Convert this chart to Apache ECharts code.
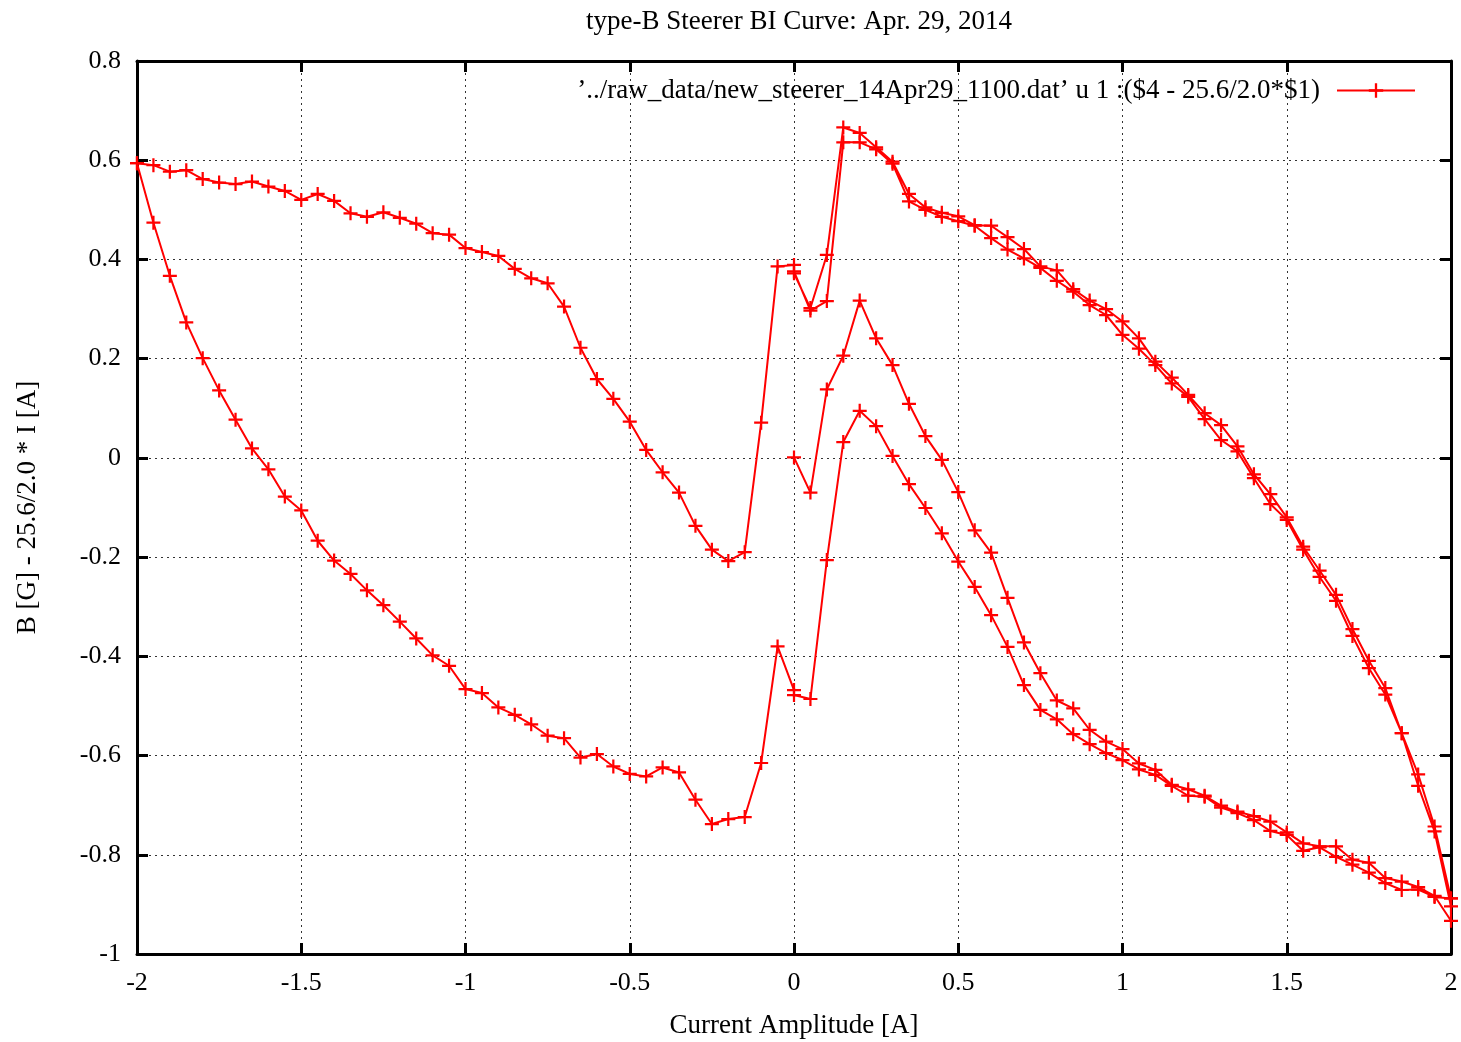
<!DOCTYPE html>
<html>
<head>
<meta charset="utf-8">
<title>type-B Steerer BI Curve</title>
<script src="https://cdn.jsdelivr.net/npm/echarts@6/dist/echarts.min.js"></script>
<style>
  html, body { margin: 0; padding: 0; background: #fff; }
  #chart { width: 1461px; height: 1042px; }
</style>
</head>
<body>
<div id="chart"></div>
<script>
// current steps, positive side (0 -> 2) and negative side (0 -> -2)
var currentPos = [0, 0.05, 0.1, 0.15, 0.2, 0.25, 0.3, 0.35, 0.4, 0.45, 0.5, 0.55, 0.6, 0.65, 0.7, 0.75, 0.8, 0.85, 0.9, 0.95,
    1, 1.05, 1.1, 1.15, 1.2, 1.25, 1.3, 1.35, 1.4, 1.45, 1.5, 1.55, 1.6, 1.65, 1.7, 1.75, 1.8, 1.85, 1.9, 1.95, 2];
var currentNeg = [0, -0.05, -0.1, -0.15, -0.2, -0.25, -0.3, -0.35, -0.4, -0.45, -0.5, -0.55, -0.6, -0.65, -0.7, -0.75, -0.8, -0.85, -0.9, -0.95,
    -1, -1.05, -1.1, -1.15, -1.2, -1.25, -1.3, -1.35, -1.4, -1.45, -1.5, -1.55, -1.6, -1.65, -1.7, -1.75, -1.8, -1.85, -1.9, -1.95, -2];

// 1st ramp 0 -> 2 (listed along currentPos)
var rampUp1 = [0.001, -0.07, 0.138, 0.206, 0.317, 0.241, 0.187, 0.109, 0.044, -0.004, -0.069, -0.146, -0.191, -0.282, -0.372, -0.434,
    -0.489, -0.505, -0.548, -0.572, -0.587, -0.616, -0.629, -0.659, -0.668, -0.681, -0.701, -0.713, -0.722, -0.733, -0.755, -0.777,
    -0.783, -0.783, -0.81, -0.816, -0.847, -0.854, -0.865, -0.883, -0.933];
// ramp 2 -> 0 (listed along currentPos, run backwards)
var rampDown1 = [0.376, 0.297, 0.316, 0.636, 0.636, 0.622, 0.593, 0.517, 0.5, 0.486, 0.477, 0.468, 0.443, 0.42, 0.402, 0.383, 0.357,
    0.335, 0.308, 0.288, 0.248, 0.22, 0.187, 0.15, 0.123, 0.078, 0.036, 0.013, -0.041, -0.093, -0.125, -0.185, -0.24, -0.288, -0.359,
    -0.424, -0.477, -0.555, -0.661, -0.753, -0.904];
// ramp 0 -> -2 (listed along currentNeg)
var rampNegDown = [0.389, 0.386, 0.071, -0.19, -0.208, -0.185, -0.137, -0.07, -0.029, 0.016, 0.073, 0.119, 0.159, 0.222, 0.305, 0.352,
    0.362, 0.381, 0.407, 0.415, 0.423, 0.45, 0.453, 0.472, 0.484, 0.495, 0.486, 0.493, 0.518, 0.532, 0.52, 0.538, 0.547, 0.557, 0.552,
    0.555, 0.562, 0.58, 0.577, 0.59, 0.594];
// ramp -2 -> 0 (listed along currentNeg, run backwards)
var rampNegUp = [-0.468, -0.38, -0.615, -0.724, -0.728, -0.738, -0.689, -0.634, -0.624, -0.642, -0.637, -0.622, -0.597, -0.604, -0.565,
    -0.56, -0.537, -0.518, -0.503, -0.474, -0.466, -0.419, -0.398, -0.364, -0.33, -0.297, -0.267, -0.234, -0.207, -0.167, -0.106, -0.078,
    -0.023, 0.019, 0.077, 0.136, 0.201, 0.273, 0.367, 0.474, 0.594];
// 2nd ramp 0 -> 2
var rampUp2 = [-0.478, -0.486, -0.206, 0.032, 0.095, 0.064, 0.004, -0.053, -0.101, -0.152, -0.209, -0.26, -0.317, -0.381, -0.458, -0.508,
    -0.527, -0.557, -0.577, -0.595, -0.609, -0.628, -0.639, -0.661, -0.681, -0.683, -0.705, -0.716, -0.73, -0.752, -0.76, -0.792, -0.785,
    -0.804, -0.82, -0.836, -0.857, -0.871, -0.87, -0.885, -0.888];
// 2nd ramp 2 -> 0
var rampDown2 = [0.372, 0.302, 0.409, 0.666, 0.655, 0.626, 0.597, 0.532, 0.505, 0.494, 0.487, 0.469, 0.468, 0.445, 0.421, 0.386, 0.378,
    0.34, 0.317, 0.3, 0.275, 0.241, 0.194, 0.162, 0.127, 0.09, 0.066, 0.023, -0.033, -0.073, -0.12, -0.179, -0.227, -0.276, -0.345,
    -0.409, -0.464, -0.555, -0.638, -0.743, -0.888];

var seriesName = '\u2019../raw_data/new_steerer_14Apr29_1100.dat\u2019 u 1 :($4 - 25.6/2.0*$1)';

var pairs = function (xs, ys, backwards) {
    var res = [];
    for (var i = 0; i < xs.length; i++) {
        res.push([xs[i], ys[i]]);
    }
    return backwards ? res.reverse() : res;
};

var points = [].concat(
    pairs(currentPos, rampUp1, false),
    pairs(currentPos, rampDown1, true),
    pairs(currentNeg, rampNegDown, false),
    pairs(currentNeg, rampNegUp, true),
    pairs(currentPos, rampUp2, false),
    pairs(currentPos, rampDown2, true)
);

var font = 'Liberation Serif';
var plus = 'path://M0,4.2H10V5.8H0ZM4.2,0H5.8V10H4.2Z';

var gridLine = { show: true, lineStyle: { color: '#333', width: 1, type: [2, 4] } };
var border = { show: true, onZero: false, lineStyle: { color: '#000', width: 3 } };
var ticks = { show: true, inside: true, length: 11, lineStyle: { color: '#000', width: 3 } };

var chart = echarts.init(document.getElementById('chart'));
chart.setOption({
    backgroundColor: '#fff',
    animation: false,
    title: {
        text: 'type-B Steerer BI Curve: Apr. 29, 2014',
        left: 794,
        top: 3,
        textAlign: 'center',
        textStyle: { fontFamily: font, fontSize: 27, fontWeight: 'normal', color: '#000' }
    },
    legend: {
        data: [seriesName],
        right: 45,
        top: 77,
        padding: 0,
        align: 'right',
        itemWidth: 78,
        itemHeight: 18,
        textStyle: { fontFamily: font, fontSize: 27, color: '#000', padding: [0, 12, 0, 0] }
    },
    grid: { left: 137, right: 10, top: 61, bottom: 88, outerBoundsMode: 'none' },
    xAxis: [{
        type: 'value',
        min: -2, max: 2, interval: 0.5,
        name: 'Current Amplitude [A]',
        nameLocation: 'middle',
        nameGap: 58,
        nameTextStyle: { fontFamily: font, fontSize: 27, color: '#000' },
        axisLine: border,
        axisTick: ticks,
        splitLine: gridLine,
        axisLabel: {
            margin: 16, fontFamily: font, fontSize: 26, color: '#000',
            formatter: function (v) { return String(+v.toFixed(2)); }
        }
    }, {
        type: 'value', position: 'top',
        min: -2, max: 2, interval: 0.5,
        axisLine: border, axisTick: ticks,
        splitLine: { show: false }, axisLabel: { show: false }
    }],
    yAxis: [{
        type: 'value',
        min: -1, max: 0.8, interval: 0.2,
        name: 'B [G] - 25.6/2.0 * I [A]',
        nameLocation: 'middle',
        nameRotate: 90,
        nameGap: 96,
        nameTextStyle: { fontFamily: font, fontSize: 27, color: '#000' },
        axisLine: border,
        axisTick: ticks,
        splitLine: gridLine,
        axisLabel: {
            margin: 16, fontFamily: font, fontSize: 26, color: '#000',
            formatter: function (v) { return String(+v.toFixed(1)); }
        }
    }, {
        type: 'value', position: 'right',
        min: -1, max: 0.8, interval: 0.2,
        axisLine: border, axisTick: ticks,
        splitLine: { show: false }, axisLabel: { show: false }
    }],
    series: [{
        name: seriesName,
        type: 'line',
        xAxisIndex: 0,
        yAxisIndex: 0,
        data: points,
        clip: false,
        symbol: plus,
        symbolSize: 14,
        showAllSymbol: true,
        color: '#ff0000',
        lineStyle: { color: '#ff0000', width: 2 },
        itemStyle: { color: '#ff0000' },
        z: 5
    }]
});
</script>
</body>
</html>
